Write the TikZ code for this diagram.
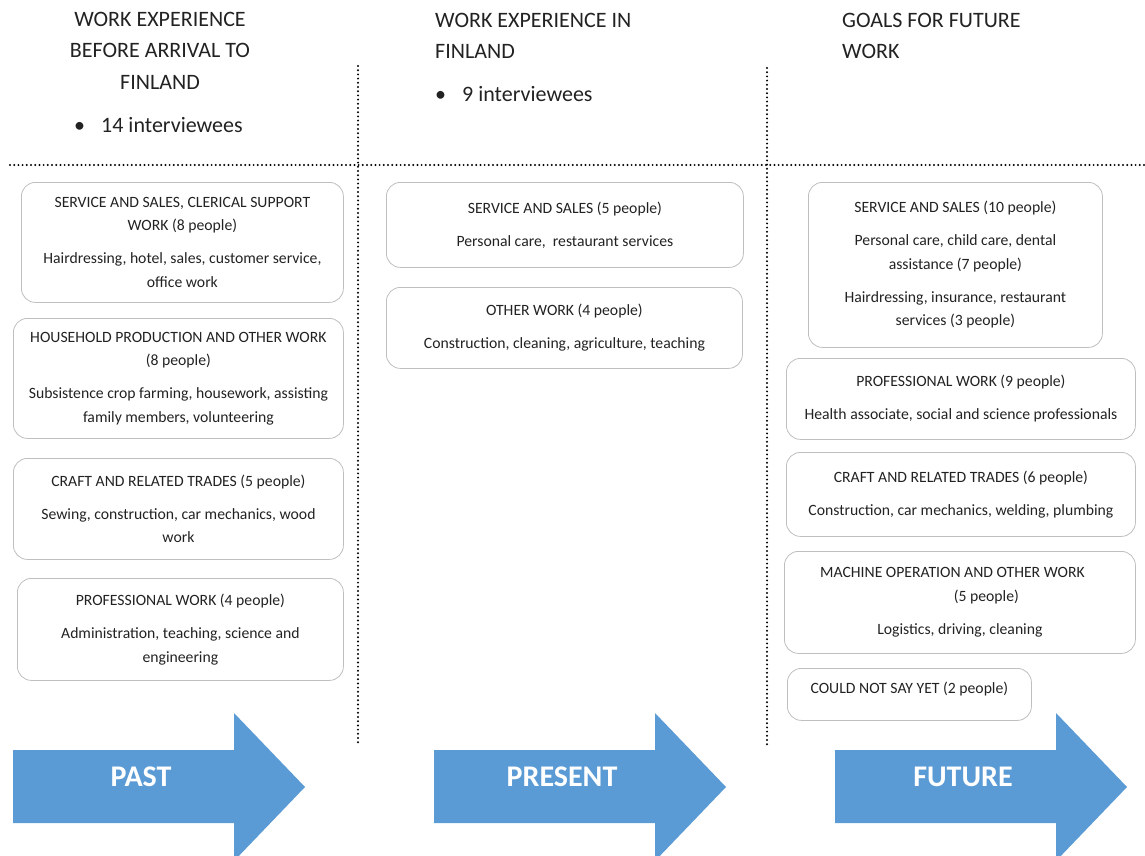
\documentclass[tikz,border=0pt]{standalone}
\usepackage{fontspec}
\setmainfont{Carlito}
\usepackage{tikz}
\usetikzlibrary{positioning}
\definecolor{arrowblue}{HTML}{5B9BD5}
\definecolor{boxgray}{HTML}{BFBFBF}
\definecolor{textgray}{HTML}{222222}
\newcommand{\boxfont}{\fontsize{15.7}{23.5}\selectfont}
\newcommand{\headfont}{\fontsize{22}{31.5}\selectfont}
\tikzstyle{jobbox}=[draw=boxgray, line width=0.8pt, rounded corners=14pt,
    anchor=north west, align=center, inner sep=0pt, font=\boxfont, text=textgray]
\tikzstyle{heading}=[inner sep=0pt, font=\headfont, text=textgray]
\tikzstyle{sepline}=[line width=2.2pt, line cap=round, dash pattern=on 0pt off 4.2pt]
\tikzstyle{timelabel}=[anchor=base, inner sep=0pt, text=white,
    font=\fontsize{30}{36}\selectfont\bfseries]
\newcommand{\timearrow}[3]{%
    \fill[arrowblue] (#2,750) -- (#2+221,750) -- (#2+221,713) -- (#2+292,787)
        -- (#2+221,861) -- (#2+221,823) -- (#2,823) -- cycle;
    \node[timelabel] (#1) at (#2+128,786) {#3};}
\newcommand{\bulletline}[1]{\makebox[27pt][l]{\textbullet}#1}
\newcommand{\gap}{\\[9.5pt]}

\begin{document}
\begin{tikzpicture}[x=1pt, y=-1pt]
    \useasboundingbox (0,0) rectangle (1145,856);

    % column headings
    \node[heading, anchor=north, align=center] (h1) at (160,12)
        {WORK EXPERIENCE\\BEFORE ARRIVAL TO\\FINLAND};
    \node[heading, anchor=base west] (h1n) at (74,132) {\bulletline{14 interviewees}};
    \node[heading, anchor=north west, align=left] (h2) at (435,13)
        {WORK EXPERIENCE IN\\FINLAND};
    \node[heading, anchor=base west] (h2n) at (435,102) {\bulletline{9 interviewees}};
    \node[heading, anchor=north west, align=left] (h3) at (842,13)
        {GOALS FOR FUTURE\\WORK};

    % separators
    \coordinate (hl) at (10,165);
    \coordinate (hr) at (1145,165);
    \coordinate (v1t) at (358,66);
    \coordinate (v1b) at (358,745);
    \coordinate (v2t) at (767,68);
    \coordinate (v2b) at (767,745);
    \draw[sepline] (hl) -- (hr);
    \draw[sepline] (v1t) -- (v1b);
    \draw[sepline] (v2t) -- (v2b);

    % past
    \node[jobbox, minimum width=322pt, minimum height=120pt] (past1) at (21,182)
        {SERVICE AND SALES, CLERICAL SUPPORT\\WORK (8 people)\gap
         Hairdressing, hotel, sales, customer service,\\office work};
    \node[jobbox, minimum width=330pt, minimum height=120pt] (past2) at (13,318)
        {HOUSEHOLD PRODUCTION AND OTHER WORK\\(8 people)\gap
         Subsistence crop farming, housework, assisting\\family members, volunteering};
    \node[jobbox, minimum width=330pt, minimum height=101pt] (past3) at (13,458)
        {CRAFT AND RELATED TRADES (5 people)\gap
         Sewing, construction, car mechanics, wood\\work};
    \node[jobbox, minimum width=326pt, minimum height=102pt] (past4) at (17,578)
        {PROFESSIONAL WORK (4 people)\gap
         Administration, teaching, science and\\engineering};

    % present
    \node[jobbox, minimum width=357pt, minimum height=85pt] (now1) at (386,182)
        {SERVICE AND SALES (5 people)\gap
         Personal care,~ restaurant services};
    \node[jobbox, minimum width=356pt, minimum height=81pt] (now2) at (386,287)
        {OTHER WORK (4 people)\gap
         Construction, cleaning, agriculture, teaching};

    % future
    \node[jobbox, minimum width=294pt, minimum height=165pt] (goal1) at (808,182)
        {SERVICE AND SALES (10 people)\gap
         Personal care, child care, dental\\assistance (7 people)\gap
         Hairdressing, insurance, restaurant\\services (3 people)};
    \node[jobbox, minimum width=349pt, minimum height=81pt] (goal2) at (786,358)
        {PROFESSIONAL WORK (9 people)\gap
         Health associate, social and science professionals};
    \node[jobbox, minimum width=349pt, minimum height=84pt] (goal3) at (786,452)
        {CRAFT AND RELATED TRADES (6 people)\gap
         Construction, car mechanics, welding, plumbing};
    \node[jobbox, minimum width=351pt, minimum height=102pt] (goal4) at (784,551)
        {MACHINE OPERATION AND OTHER WORK\hspace*{15pt}\\\hspace*{53pt}(5 people)\gap
         Logistics, driving, cleaning};
    \node[jobbox, minimum width=244pt, minimum height=52pt, text depth=13pt] (goal5) at (787,668)
        {COULD NOT SAY YET (2 people)};

    % time arrows
    \timearrow{past}{13}{PAST}
    \timearrow{present}{434}{PRESENT}
    \timearrow{future}{835}{FUTURE}
\end{tikzpicture}
\end{document}
